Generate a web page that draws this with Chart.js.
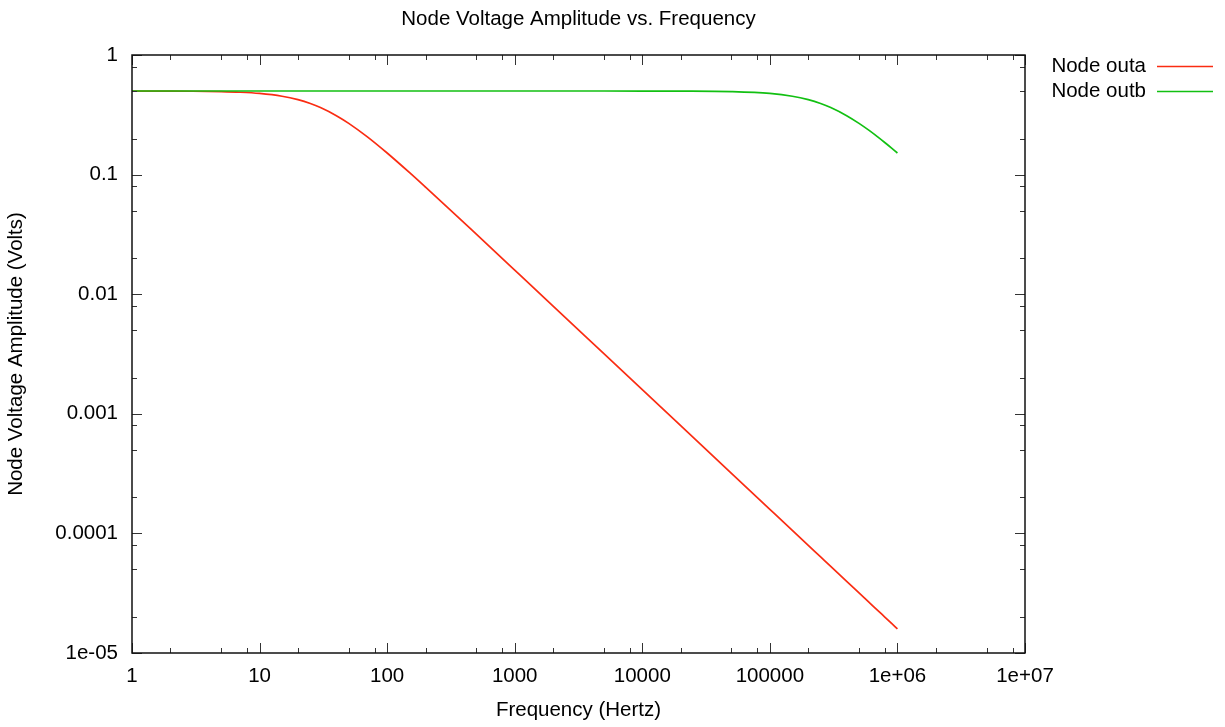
<!DOCTYPE html>
<html><head><meta charset="utf-8">
<script src="https://cdn.jsdelivr.net/npm/chart.js@4.4.0/dist/chart.umd.min.js"></script>
<style>html,body{margin:0;padding:0;background:#fff;}#wrap{width:1225px;height:727px;}</style>
</head><body><div id="wrap"><canvas id="c" width="1225" height="727"></canvas></div>
<script>
const titleText = 'Node Voltage Amplitude vs. Frequency';
const xAxisTitle = 'Frequency (Hertz)';
const yAxisTitle = 'Node Voltage Amplitude (Volts)';
const frequencies = [1, 2, 3, 5, 7, 10, 15, 20, 25, 30, 40, 50, 70, 100, 150, 200, 300, 500, 700, 1000, 2000, 5000, 10000, 20000, 50000, 100000, 150000, 200000, 250000, 300000, 400000, 500000, 600000, 700000, 800000, 900000, 1000000];
const outaValues = [0.49975, 0.49901, 0.49779, 0.4939, 0.4883, 0.4770, 0.4522, 0.4232, 0.3932, 0.3637, 0.3111, 0.2683, 0.2068, 0.1515, 0.1037, 0.0785, 0.0527, 0.03173, 0.02269, 0.01589, 0.00795, 0.00318, 0.00159, 0.000795, 0.000318, 0.000159, 0.000106, 0.0000795, 0.0000636, 0.000053, 0.0000398, 0.0000318, 0.0000265, 0.0000227, 0.0000199, 0.0000177, 0.0000159];
const outbValues = [0.5, 0.5, 0.5, 0.5, 0.5, 0.5, 0.5, 0.5, 0.5, 0.5, 0.5, 0.5, 0.5, 0.5, 0.5, 0.5, 0.5, 0.5, 0.5, 0.5, 0.5, 0.49999, 0.49975, 0.49901, 0.4939, 0.4770, 0.4522, 0.4232, 0.3932, 0.3637, 0.3111, 0.2683, 0.2341, 0.2068, 0.1847, 0.1666, 0.1515];
const seriesNames = ['Node outa', 'Node outb'];
const seriesColors = ['#fa2c12', '#12c012'];
const xTickValues = [1, 10, 100, 1000, 10000, 100000, 1000000, 10000000];
const xTickLabels = ['1', '10', '100', '1000', '10000', '100000', '1e+06', '1e+07'];
const yTickValues = [0.00001, 0.0001, 0.001, 0.01, 0.1, 1];
const yTickLabels = ['1e-05', '0.0001', '0.001', '0.01', '0.1', '1'];
const minorMultipliers = [2, 5, 8];

const FONT = '"Liberation Sans", Arial, Helvetica, sans-serif';
const LABEL_SIZE = 20.5;

function toPoints(vals) { return frequencies.map((f, i) => ({x: f, y: vals[i]})); }

const framePlugin = {
  id: 'frame',
  afterDatasetsDraw(chart) {
    const {ctx, chartArea: a, scales: {x, y}} = chart;
    ctx.save();
    ctx.strokeStyle = '#333';
    ctx.lineWidth = 1;
    ctx.beginPath();
    const drawX = (v, len) => {
      const px = Math.round(x.getPixelForValue(v)) + 0.5;
      ctx.moveTo(px, a.bottom); ctx.lineTo(px, a.bottom - len);
      ctx.moveTo(px, a.top); ctx.lineTo(px, a.top + len);
    };
    const drawY = (v, len) => {
      const py = Math.round(y.getPixelForValue(v)) + 0.5;
      ctx.moveTo(a.left, py); ctx.lineTo(a.left + len, py);
      ctx.moveTo(a.right, py); ctx.lineTo(a.right - len, py);
    };
    xTickValues.forEach((v, i) => {
      drawX(v, 10);
      if (i < xTickValues.length - 1) minorMultipliers.forEach(m => drawX(v * m, 5));
    });
    yTickValues.forEach((v, i) => {
      drawY(v, 10);
      if (i < yTickValues.length - 1) minorMultipliers.forEach(m => drawY(v * m, 5));
    });
    ctx.stroke();
    ctx.strokeStyle = '#111';
    ctx.lineWidth = 1.5;
    ctx.strokeRect(a.left, a.top, a.right - a.left, a.bottom - a.top);
    ctx.restore();
  },
  afterDraw(chart) {
    const {ctx, chartArea: a} = chart;
    ctx.save();
    ctx.fillStyle = '#000';
    ctx.font = '20.5px ' + FONT;
    ctx.textAlign = 'center';
    ctx.textBaseline = 'middle';
    ctx.fillText(titleText, (a.left + a.right) / 2, 19);
    ctx.font = LABEL_SIZE + 'px ' + FONT;
    ctx.textAlign = 'right';
    chart.data.datasets.forEach((ds, i) => {
      const yy = 66 + i * 25;
      ctx.fillStyle = '#000';
      ctx.fillText(ds.label, 1146, yy);
      ctx.strokeStyle = ds.borderColor;
      ctx.lineWidth = 1.6;
      ctx.beginPath();
      ctx.moveTo(1157, yy + 0.5); ctx.lineTo(1213, yy + 0.5);
      ctx.stroke();
    });
    ctx.restore();
  }
};

new Chart(document.getElementById('c'), {
  type: 'scatter',
  data: {
    datasets: [
      {label: seriesNames[0], data: toPoints(outaValues), showLine: true, borderColor: seriesColors[0], backgroundColor: seriesColors[0], borderWidth: 1.7, pointRadius: 0, cubicInterpolationMode: 'monotone', order: 1},
      {label: seriesNames[1], data: toPoints(outbValues), showLine: true, borderColor: seriesColors[1], backgroundColor: seriesColors[1], borderWidth: 1.7, pointRadius: 0, cubicInterpolationMode: 'monotone', order: 0}
    ]
  },
  options: {
    responsive: false,
    animation: false,
    devicePixelRatio: 1,
    layout: {padding: {top: 55, right: 200, bottom: 0, left: 0}},
    plugins: {legend: {display: false}, title: {display: false}, tooltip: {enabled: false}},
    scales: {
      x: {
        type: 'logarithmic', position: 'bottom', min: 1, max: 10000000,
        grid: {display: false, drawTicks: false}, border: {display: false},
        afterBuildTicks: s => { s.ticks = xTickValues.map(v => ({value: v})); },
        afterFit: s => { s.height = 74; },
        ticks: {autoSkip: false, maxRotation: 0, padding: 11, color: '#000', font: {family: FONT, size: LABEL_SIZE},
          callback: v => { const i = xTickValues.indexOf(v); return i >= 0 ? xTickLabels[i] : ''; }},
        title: {display: true, text: xAxisTitle, color: '#000', font: {family: FONT, size: LABEL_SIZE}, padding: {top: 0, bottom: 4}}
      },
      y: {
        type: 'logarithmic', position: 'left', min: 0.00001, max: 1,
        grid: {display: false, drawTicks: false}, border: {display: false},
        afterBuildTicks: s => { s.ticks = yTickValues.map(v => ({value: v})); },
        afterFit: s => { s.width = 132; },
        ticks: {autoSkip: false, padding: 14, color: '#000', font: {family: FONT, size: LABEL_SIZE},
          callback: v => { const i = yTickValues.indexOf(v); return i >= 0 ? yTickLabels[i] : ''; }},
        title: {display: true, text: yAxisTitle, color: '#000', font: {family: FONT, size: LABEL_SIZE}, padding: {top: 4, bottom: 0}}
      }
    }
  },
  plugins: [framePlugin]
});
</script></body></html>
